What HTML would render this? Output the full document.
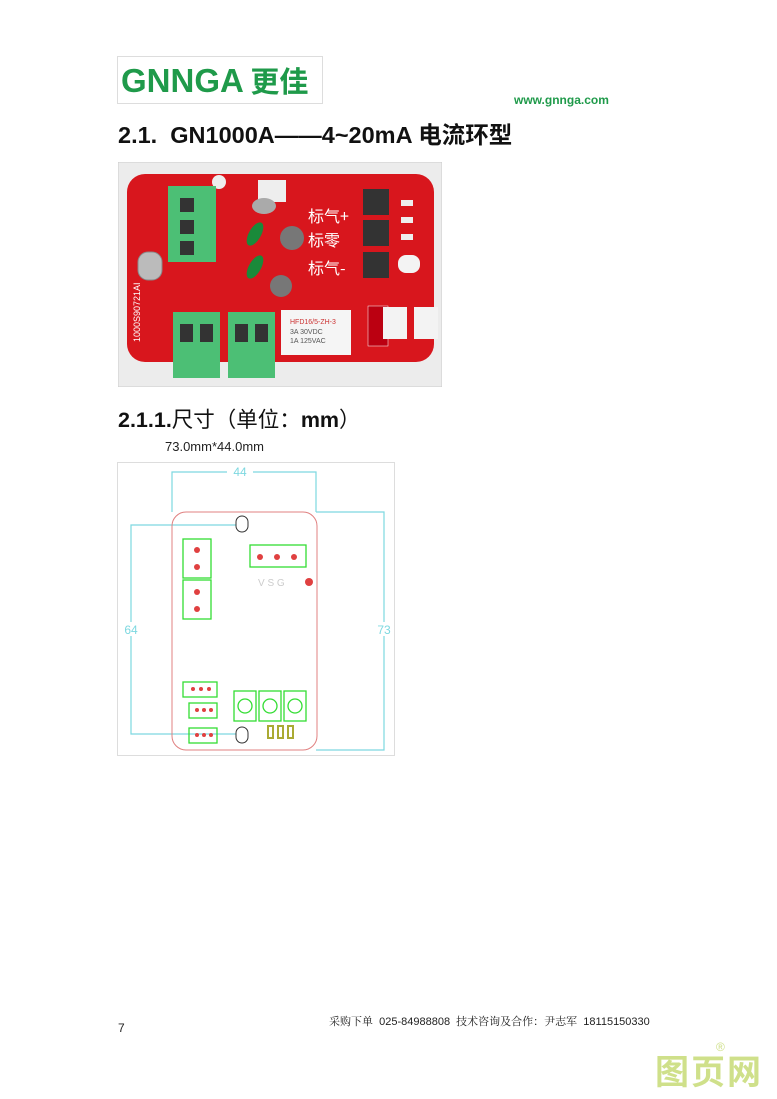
<!DOCTYPE html>
<html><head><meta charset="utf-8"><style>
body{margin:0;width:777px;height:1099px;background:#fff;position:relative;overflow:hidden;font-family:"Liberation Sans","Noto Sans CJK SC",sans-serif}
.a{position:absolute}
</style></head><body>
<div class="a" style="left:117px;top:56px;width:206px;height:48px;border:1px solid #ddd;box-sizing:border-box"></div>
<div class="a" style="left:121px;top:62px;font:bold 33px 'Liberation Sans',sans-serif;color:#1f9a4a;line-height:36px;white-space:nowrap">GNNGA<span style="font-family:'Noto Sans CJK SC',sans-serif;font-size:29px;font-weight:bold"> 更佳</span></div>
<div class="a" style="left:514px;top:93px;font:bold 12px 'Liberation Sans',sans-serif;color:#1f9a4a">www.gnnga.com</div>
<div class="a" style="left:118px;top:116px;font:bold 23.5px 'Liberation Sans','Noto Sans CJK SC',sans-serif;color:#111;white-space:nowrap">2.1.&nbsp; GN1000A——4~20mA 电流环型</div>

<svg class="a" style="left:118px;top:162px" width="324" height="225" viewBox="0 0 324 225">
<rect x="0" y="0" width="324" height="225" fill="#ececec" stroke="#ccc"/>
<rect x="9" y="12" width="307" height="188" rx="18" fill="#d8161d"/>
<circle cx="101" cy="20" r="7" fill="#eee"/>
<rect x="140" y="18" width="28" height="22" fill="#eee"/>
<rect x="20" y="90" width="24" height="28" rx="10" fill="#bbb" stroke="#888"/>
<rect x="280" y="93" width="22" height="18" rx="8" fill="#f3f3f3"/>
<rect x="50" y="24" width="48" height="76" fill="#4cbf75"/>
<rect x="62" y="36" width="14" height="14" fill="#333"/><rect x="62" y="58" width="14" height="14" fill="#333"/><rect x="62" y="79" width="14" height="14" fill="#333"/>
<ellipse cx="146" cy="44" rx="12" ry="8" fill="#aaa"/>
<ellipse cx="137" cy="72" rx="6" ry="13" fill="#1a8a3a" transform="rotate(30 137 72)"/>
<ellipse cx="137" cy="105" rx="6" ry="13" fill="#1a8a3a" transform="rotate(30 137 105)"/>
<circle cx="174" cy="76" r="12" fill="#777"/><circle cx="163" cy="124" r="11" fill="#777"/>
<text x="190" y="60" font-size="16" fill="#fff" font-family="Noto Sans CJK SC">标气+</text>
<text x="190" y="84" font-size="16" fill="#fff" font-family="Noto Sans CJK SC">标零</text>
<text x="190" y="112" font-size="16" fill="#fff" font-family="Noto Sans CJK SC">标气-</text>
<rect x="245" y="27" width="26" height="26" fill="#333"/><rect x="245" y="58" width="26" height="26" fill="#333"/><rect x="245" y="90" width="26" height="26" fill="#333"/>
<rect x="283" y="38" width="12" height="6" fill="#eee"/><rect x="283" y="55" width="12" height="6" fill="#eee"/><rect x="283" y="72" width="12" height="6" fill="#eee"/>
<rect x="55" y="150" width="47" height="66" fill="#4cbf75"/><rect x="110" y="150" width="47" height="66" fill="#4cbf75"/>
<rect x="62" y="162" width="13" height="18" fill="#333"/><rect x="82" y="162" width="13" height="18" fill="#333"/>
<rect x="117" y="162" width="13" height="18" fill="#333"/><rect x="137" y="162" width="13" height="18" fill="#333"/>
<rect x="163" y="148" width="70" height="45" fill="#f5f5f5"/>
<text x="172" y="162" font-size="7" fill="#c33">HFD16/5-ZH-3</text>
<text x="172" y="172" font-size="7" fill="#555">3A 30VDC</text><text x="172" y="181" font-size="7" fill="#555">1A 125VAC</text>
<rect x="250" y="144" width="20" height="40" fill="#b01" stroke="#fff" stroke-width=".5"/>
<rect x="265" y="145" width="24" height="32" fill="#f3f3f3"/><rect x="296" y="145" width="24" height="32" fill="#f3f3f3"/>
<text x="22" y="180" font-size="9" fill="#fff" transform="rotate(-90 22 180)">1000S90721AI</text>
</svg>

<div class="a" style="left:118px;top:403px;font:bold 21.5px 'Liberation Sans','Noto Sans CJK SC',sans-serif;color:#111;white-space:nowrap">2.1.1.<span style="font-weight:normal">尺寸（单位：</span>mm<span style="font-weight:normal">）</span></div>
<div class="a" style="left:165px;top:439px;font:13px 'Liberation Sans',sans-serif;color:#222">73.0mm*44.0mm</div>

<svg class="a" style="left:117px;top:462px" width="278" height="294" viewBox="117 462 278 294">
<rect x="117.5" y="462.5" width="277" height="293" fill="#fff" stroke="#ddd"/>
<g stroke="#7dd8e0" fill="none" stroke-width="1.2">
<polyline points="172,512 172,472 316,472 316,512"/>
<polyline points="316,512 384,512 384,750 316,750"/>
<polyline points="240,525 131,525 131,734 240,734"/>
</g>
<rect x="227" y="466" width="26" height="10" fill="#fff"/>
<text x="240" y="476" font-size="12" fill="#7dd8e0" text-anchor="middle">44</text>
<rect x="124" y="622" width="16" height="14" fill="#fff"/>
<text x="131" y="634" font-size="12" fill="#7dd8e0" text-anchor="middle">64</text>
<rect x="376" y="622" width="16" height="14" fill="#fff"/>
<text x="384" y="634" font-size="12" fill="#7dd8e0" text-anchor="middle">73</text>
<rect x="172" y="512" width="145" height="238" rx="14" fill="none" stroke="#e08080"/>
<rect x="236" y="516" width="12" height="16" rx="6" fill="#fff" stroke="#333"/>
<rect x="236" y="727" width="12" height="16" rx="6" fill="#fff" stroke="#333"/>
<g stroke="#33dd33" fill="none" stroke-width="1.3">
<rect x="183" y="539" width="28" height="39"/><rect x="183" y="580" width="28" height="39"/>
<rect x="250" y="545" width="56" height="22"/>
<rect x="183" y="682" width="34" height="15"/><rect x="189" y="703" width="28" height="15"/><rect x="189" y="728" width="28" height="15"/>
<rect x="234" y="691" width="22" height="30"/><rect x="259" y="691" width="22" height="30"/><rect x="284" y="691" width="22" height="30"/>
<circle cx="245" cy="706" r="7"/><circle cx="270" cy="706" r="7"/><circle cx="295" cy="706" r="7"/>
</g>
<g fill="#e04040">
<circle cx="197" cy="550" r="3"/><circle cx="197" cy="567" r="3"/><circle cx="197" cy="592" r="3"/><circle cx="197" cy="609" r="3"/>
<circle cx="260" cy="557" r="3"/><circle cx="277" cy="557" r="3"/><circle cx="294" cy="557" r="3"/>
<circle cx="309" cy="582" r="4"/>
<circle cx="193" cy="689" r="2"/><circle cx="201" cy="689" r="2"/><circle cx="209" cy="689" r="2"/>
<circle cx="197" cy="710" r="2"/><circle cx="204" cy="710" r="2"/><circle cx="211" cy="710" r="2"/>
<circle cx="197" cy="735" r="2"/><circle cx="204" cy="735" r="2"/><circle cx="211" cy="735" r="2"/>
</g>
<text x="258" y="586" font-size="10" fill="#ccc">V  S  G</text>
<g fill="none" stroke="#aa3" stroke-width="2"><rect x="268" y="726" width="5" height="12"/><rect x="278" y="726" width="5" height="12"/><rect x="288" y="726" width="5" height="12"/></g>
</svg>

<div class="a" style="left:329px;top:1013px;font:11px 'Liberation Sans','Noto Serif CJK SC',sans-serif;color:#222;white-space:nowrap">采购下单&nbsp; 025-84988808&nbsp; 技术咨询及合作：尹志军&nbsp; 18115150330</div>
<div class="a" style="left:118px;top:1021px;font:12px 'Liberation Sans',sans-serif;color:#222">7</div>
<div class="a" style="left:655px;top:1050px;font:bold 34px 'Noto Sans CJK SC',sans-serif;color:#cfe08a;letter-spacing:2px;line-height:40px">图页网</div>
<div class="a" style="left:716px;top:1040px;font:12px 'Liberation Sans',sans-serif;color:#cfe08a">®</div>
</body></html>
